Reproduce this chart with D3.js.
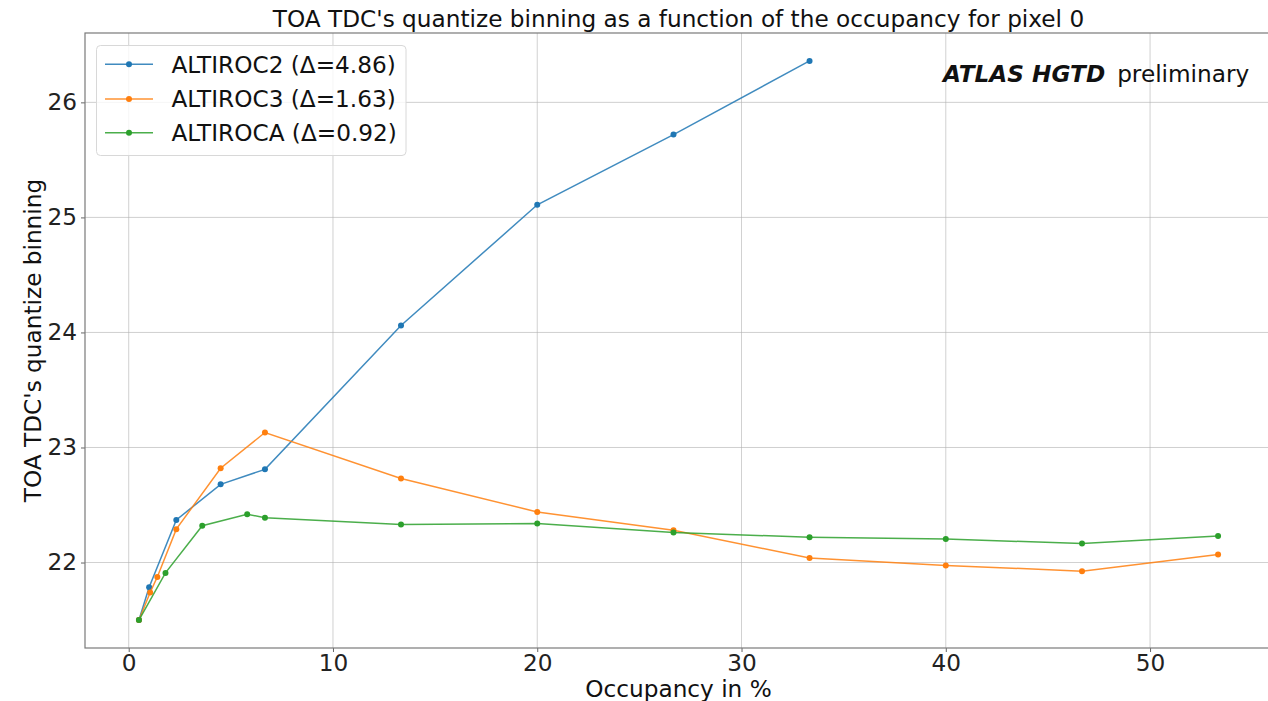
<!DOCTYPE html>
<html><head><meta charset="utf-8">
<script src="https://cdn.jsdelivr.net/npm/d3@7"></script>
<style>
html,body{margin:0;padding:0;background:#fff;}
svg{display:block;font-family:"DejaVu Sans",sans-serif;}
</style></head>
<body>
<svg id="chart" width="1268" height="701"></svg>
<script>
// Data
const altiroc2X = [0.5, 1.0, 2.33, 4.5, 6.67, 13.33, 20.0, 26.67, 33.33];
const altiroc2Y = [21.50, 21.785, 22.37, 22.68, 22.81, 24.06, 25.11, 25.72, 26.36];
const altiroc3X = [0.5, 1.05, 1.4, 2.33, 4.5, 6.67, 13.33, 20.0, 26.67, 33.33, 40.0, 46.67, 53.33];
const altiroc3Y = [21.50, 21.74, 21.875, 22.29, 22.82, 23.13, 22.73, 22.44, 22.28, 22.04, 21.975, 21.925, 22.07];
const altirocAX = [0.5, 1.8, 3.6, 5.8, 6.67, 13.33, 20.0, 26.67, 33.33, 40.0, 46.67, 53.33];
const altirocAY = [21.50, 21.91, 22.32, 22.42, 22.39, 22.33, 22.34, 22.26, 22.22, 22.205, 22.165, 22.23];
const seriesNames = ["ALTIROC2 (\u0394=4.86)", "ALTIROC3 (\u0394=1.63)", "ALTIROCA (\u0394=0.92)"];
const xTicks = [0, 10, 20, 30, 40, 50];
const yTicks = [22, 23, 24, 25, 26];
const titleText = "TOA TDC's quantize binning as a function of the occupancy for pixel 0";
const xLabel = "Occupancy in %";
const yLabel = "TOA TDC's quantize binning";

const colors = ["#1f77b4", "#ff7f0e", "#2ca02c"];
const series = [
  {name: seriesNames[0], xs: altiroc2X, ys: altiroc2Y, color: colors[0]},
  {name: seriesNames[1], xs: altiroc3X, ys: altiroc3Y, color: colors[1]},
  {name: seriesNames[2], xs: altirocAX, ys: altirocAY, color: colors[2]}
];

const svg = d3.select("#chart");
const L = 85, R = 1272, T = 33, B = 648;
const FS = 23.2;

const x = d3.scaleLinear().domain([-2.14, 55.97]).range([L, R]);
const y = d3.scaleLinear().domain([21.257, 26.603]).range([B, T]);

// grid
const grid = svg.append("g");
grid.selectAll(".gx").data(xTicks).enter().append("line")
  .attr("x1", d => x(d)).attr("x2", d => x(d)).attr("y1", T).attr("y2", B)
  .attr("stroke", "#b0b0b0").attr("stroke-opacity", 0.6).attr("stroke-width", 1);
grid.selectAll(".gy").data(yTicks).enter().append("line")
  .attr("x1", L).attr("x2", R).attr("y1", d => y(d)).attr("y2", d => y(d))
  .attr("stroke", "#b0b0b0").attr("stroke-opacity", 0.6).attr("stroke-width", 1);

// axes
const xAxis = svg.append("g").attr("transform", `translate(0,${B})`)
  .call(d3.axisBottom(x).tickValues(xTicks).tickSize(4).tickPadding(3).tickFormat(d3.format("d")));
const yAxis = svg.append("g").attr("transform", `translate(${L},0)`)
  .call(d3.axisLeft(y).tickValues(yTicks).tickSize(4).tickPadding(4).tickFormat(d3.format("d")));
[xAxis, yAxis].forEach(a => {
  a.select(".domain").remove();
  a.selectAll("line").attr("stroke", "#666").attr("stroke-width", 1);
  a.selectAll("text").attr("font-size", FS).attr("fill", "#222").attr("font-family", "DejaVu Sans");
});
// frame
svg.append("rect").attr("x", L).attr("y", T).attr("width", R - L).attr("height", B - T)
  .attr("fill", "none").attr("stroke", "#7a7a7a").attr("stroke-width", 1.2);

// lines
const line = d3.line().x(d => x(d[0])).y(d => y(d[1]));
series.forEach(s => {
  const pts = s.xs.map((v, i) => [v, s.ys[i]]);
  svg.append("path").datum(pts).attr("d", line)
    .attr("fill", "none").attr("stroke", s.color).attr("stroke-opacity", 0.85).attr("stroke-width", 1.5);
  svg.append("g").selectAll("circle").data(pts).enter().append("circle")
    .attr("cx", d => x(d[0])).attr("cy", d => y(d[1])).attr("r", 3)
    .attr("fill", s.color);
});

// title & labels
svg.append("text").attr("x", (L + R) / 2).attr("y", 27).attr("text-anchor", "middle")
  .attr("font-size", FS).attr("fill", "#111").text(titleText);
svg.append("text").attr("x", (L + R) / 2).attr("y", 697).attr("text-anchor", "middle")
  .attr("font-size", FS).attr("fill", "#111").text(xLabel);
svg.append("text").attr("transform", `translate(41,${(T + B) / 2}) rotate(-90)`)
  .attr("text-anchor", "middle").attr("font-size", FS).attr("fill", "#111").text(yLabel);

// ATLAS label
const at = svg.append("text").attr("x", 943).attr("y", 82).attr("font-size", FS).attr("fill", "#111");
at.append("tspan").attr("font-weight", "bold").attr("font-style", "italic").text("ATLAS HGTD");
at.append("tspan").attr("dx", 12).text("preliminary");

// legend
const lg = svg.append("g");
lg.append("rect").attr("x", 96.5).attr("y", 45.5).attr("width", 309.5).attr("height", 110).attr("rx", 4)
  .attr("fill", "#fff").attr("fill-opacity", 0.8).attr("stroke", "#d8d8d8").attr("stroke-width", 1);
const rowsY = [64.3, 99, 132.7];
series.forEach((s, i) => {
  lg.append("line").attr("x1", 105).attr("x2", 153).attr("y1", rowsY[i]).attr("y2", rowsY[i])
    .attr("stroke", s.color).attr("stroke-opacity", 0.85).attr("stroke-width", 1.5);
  lg.append("circle").attr("cx", 129).attr("cy", rowsY[i]).attr("r", 3).attr("fill", s.color);
  lg.append("text").attr("x", 171.5).attr("y", rowsY[i] + 8.3).attr("font-size", FS).attr("fill", "#111").text(s.name);
});
</script>
</body></html>
